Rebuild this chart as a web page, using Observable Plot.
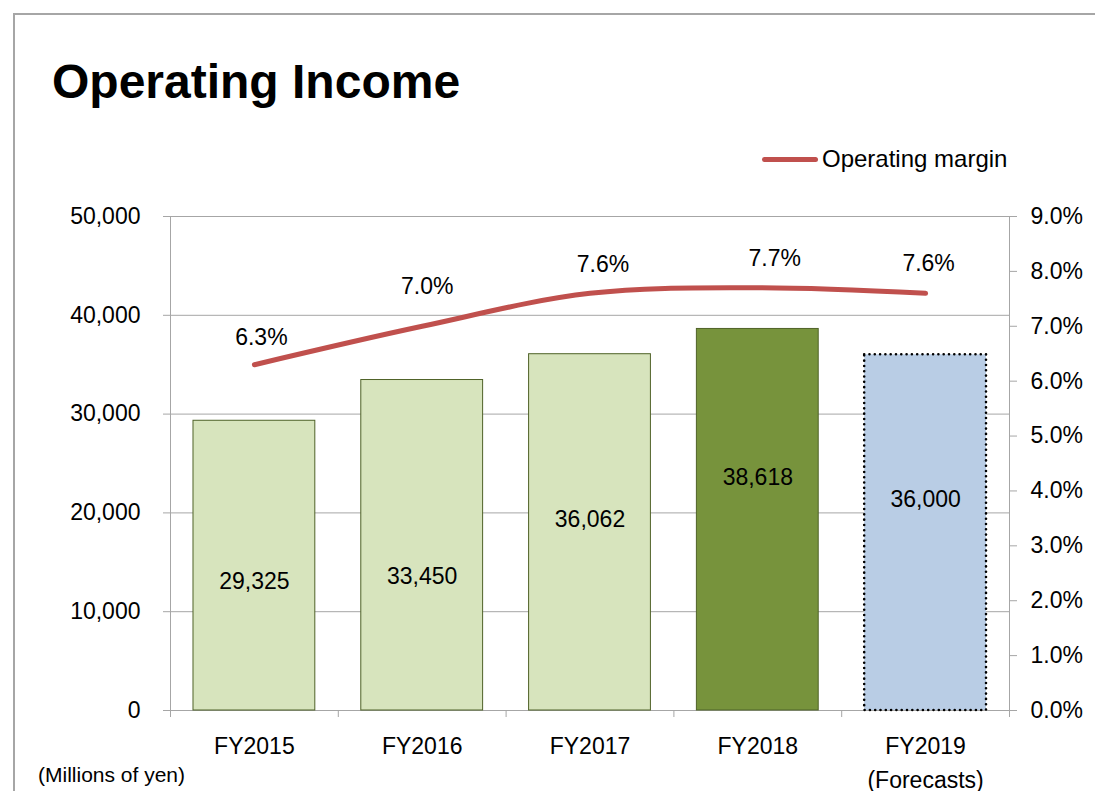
<!DOCTYPE html>
<html>
<head>
<meta charset="utf-8">
<script src="https://cdn.jsdelivr.net/npm/d3@7"></script>
<script src="https://cdn.jsdelivr.net/npm/@observablehq/plot@0.6"></script>
<style>
  html, body { margin: 0; padding: 0; background: #fff; }
  body { width: 1095px; height: 791px; position: relative; overflow: hidden; font-family: "Liberation Sans", Arial, sans-serif; color: #000; }
  #border { position: absolute; left: 13px; top: 13px; right: -5px; bottom: -5px; border-left: 2px solid #a6a6a6; border-top: 2px solid #a6a6a6; }
  #chart { position: absolute; left: 0; top: 0; }
  #title { position: absolute; left: 52px; top: 58px; font-size: 48px; line-height: 48px; font-weight: bold; white-space: nowrap; }
  #legend { position: absolute; left: 762px; top: 145px; height: 28px; display: flex; align-items: center; white-space: nowrap; font-size: 24px; }
  #legend .swatch { width: 56px; height: 5px; border-radius: 3px; background: #c0504d; margin-right: 4px; }
  #unit { position: absolute; left: 38px; top: 763px; font-size: 21px; white-space: nowrap; }
</style>
</head>
<body>
<div id="border"></div>
<div id="chart"></div>
<div id="title">Operating Income</div>
<div id="legend"><div class="swatch"></div><span>Operating margin</span></div>
<div id="unit">(Millions of yen)</div>
<script>
// ---- data ----
const categories = ["FY2015", "FY2016", "FY2017", "FY2018", "FY2019"];
const xLabels = ["FY2015", "FY2016", "FY2017", "FY2018", "FY2019\n(Forecasts)"];
const operatingIncome = [29325, 33450, 36062, 38618, 36000];
const operatingMargin = [6.3, 7.0, 7.6, 7.7, 7.6];
const leftTicks = [0, 10000, 20000, 30000, 40000, 50000];
const rightTicks = [0, 1, 2, 3, 4, 5, 6, 7, 8, 9];

// ---- layout / style (not data) ----
const yMax = 50000, pctMax = 9;
const pctToY = p => p * yMax / pctMax;
const halfPad = 0.137;
const barFill = ["#d7e4bd", "#d7e4bd", "#d7e4bd", "#77933c", "#b9cde5"];
const valueLabelFrac = [0.445, 0.405, 0.536, 0.611, 0.593];
const marginLabelOffset = [[7, -27], [5, -40], [13, -29], [17, -29], [3, -30]];
const gray = "#a6a6a6";
const fs = 23;

const rows = categories.map((c, i) => ({
  i, cat: c, label: xLabels[i], value: operatingIncome[i], margin: operatingMargin[i], fill: barFill[i]
}));
const solid = rows.filter(d => d.i < 4);
const forecast = rows.filter(d => d.i === 4);

const marks = [
  Plot.gridY(leftTicks, {stroke: gray, strokeOpacity: 1, strokeWidth: 1}),
  Plot.frame({stroke: gray, strokeWidth: 1}),
  Plot.axisY(leftTicks, {anchor: "left", tickSize: 7, tickPadding: 23, stroke: gray, fill: "#000",
    fontSize: fs, tickFormat: d3.format(","), label: null}),
  Plot.axisY(rightTicks.map(pctToY), {anchor: "right", tickSize: 7, tickPadding: 14, stroke: gray, fill: "#000",
    fontSize: fs, tickFormat: d => (d * pctMax / yMax).toFixed(1) + "%", label: null}),
  Plot.axisX(d3.range(0, categories.length + 1), {anchor: "bottom", tickSize: 7, stroke: gray,
    tickFormat: () => "", label: null}),
  Plot.rectY(solid, {x1: d => d.i + halfPad, x2: d => d.i + 1 - halfPad, y1: 0, y2: "value",
    fill: "fill", stroke: "#4f6228", strokeWidth: 1}),
  Plot.rectY(forecast, {x1: d => d.i + halfPad, x2: d => d.i + 1 - halfPad, y1: 0, y2: "value",
    fill: "fill", stroke: "#000", strokeWidth: 2.6, strokeDasharray: "0,5.3", strokeLinecap: "round"}),
  Plot.line(rows, {x: d => d.i + 0.5, y: d => pctToY(d.margin), stroke: "#c0504d", strokeWidth: 5,
    strokeLinecap: "round", strokeLinejoin: "round", curve: "catmull-rom"}),
  Plot.text(rows, {x: d => d.i + 0.5, y: d => d.value * valueLabelFrac[d.i], text: d => d3.format(",")(d.value),
    fontSize: fs, fill: "#000"}),
  ...rows.map(d => Plot.text([d], {x: r => r.i + 0.5, y: r => pctToY(r.margin),
    text: r => r.margin.toFixed(1) + "%", dx: marginLabelOffset[d.i][0], dy: marginLabelOffset[d.i][1],
    fontSize: fs, fill: "#000"})),
  Plot.text(rows, {x: d => d.i + 0.5, frameAnchor: "bottom", text: "label", lineAnchor: "top",
    dy: 20, lineHeight: 1.45, fontSize: fs, fill: "#000"})
];

const chart = Plot.plot({
  width: 1095,
  height: 791,
  marginTop: 216,
  marginBottom: 81,
  marginLeft: 170,
  marginRight: 86,
  x: {type: "linear", domain: [0, categories.length], axis: null},
  y: {domain: [0, yMax], axis: null},
  style: {background: "transparent", fontFamily: "'Liberation Sans', Arial, sans-serif", color: "#000", overflow: "visible"},
  marks
});
document.getElementById("chart").appendChild(chart);
</script>
</body>
</html>
